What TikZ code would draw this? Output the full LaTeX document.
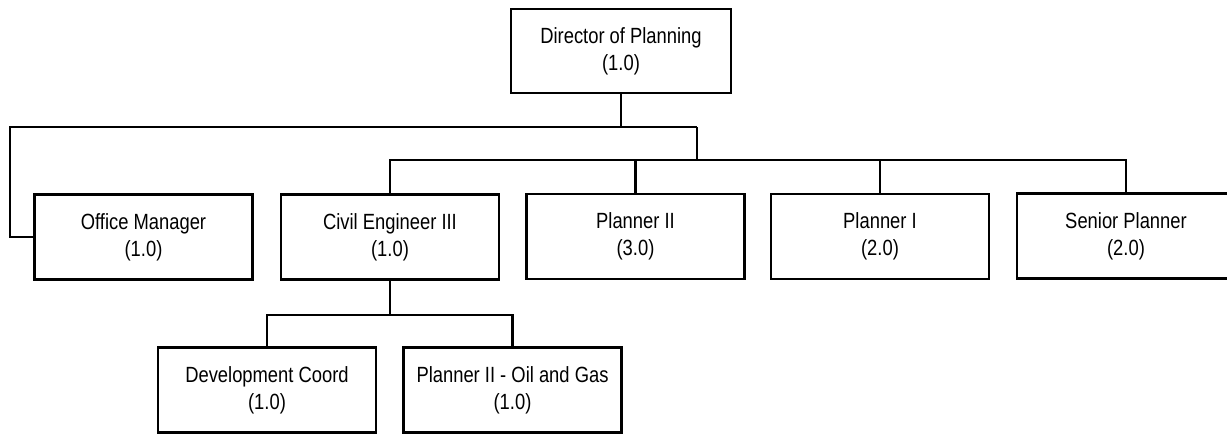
\documentclass[tikz,border=0pt]{standalone}
\usepackage{fontspec}
\setmainfont[FakeStretch=0.835]{Liberation Sans}
\begin{document}
\begin{tikzpicture}[x=1pt,y=-1pt,
  box/.style={draw,line width=2.5pt,rectangle,inner sep=0pt,minimum width=218pt,minimum height=85pt,align=center,font=\fontsize{22}{27}\selectfont},
  conn/.style={line width=2.5pt}]
\useasboundingbox (0,0) rectangle (1227,434);
\node[box,minimum width=220pt,minimum height=84pt] (dir) at (621,51) {Director of Planning\\(1.0)};
\node[box] (office) at (143.5,237) {Office Manager\\(1.0)};
\node[box] (civil) at (390,237) {Civil Engineer III\\(1.0)};
\node[box] (p2) at (635.5,236.5) {Planner II\\(3.0)};
\node[box] (p1) at (880,236.5) {Planner I\\(2.0)};
\node[box] (senior) at (1126,236) {Senior Planner\\(2.0)};
\node[box] (dev) at (267,390) {Development Coord\\(1.0)};
\node[box] (oil) at (512.5,390) {Planner II - Oil and Gas\\(1.0)};
\coordinate (tL) at (10,127);
\coordinate (tR) at (697,127);
\coordinate (mR) at (697,160);
\coordinate (c1) at (390,315);
\draw[conn] (dir.south) -- (dir.south |- tL);
\draw[conn] (tR) -- (tL) |- (office.west);
\draw[conn] (tR) -- (mR);
\draw[conn] (civil.north) |- (senior.north |- mR) -- (senior.north);
\draw[conn] (p2.north) -- (p2.north |- mR);
\draw[conn] (p1.north) -- (p1.north |- mR);
\draw[conn] (civil.south) -- (c1);
\draw[conn] (dev.north) |- (oil.north |- c1) -- (oil.north);
\end{tikzpicture}
\end{document}
